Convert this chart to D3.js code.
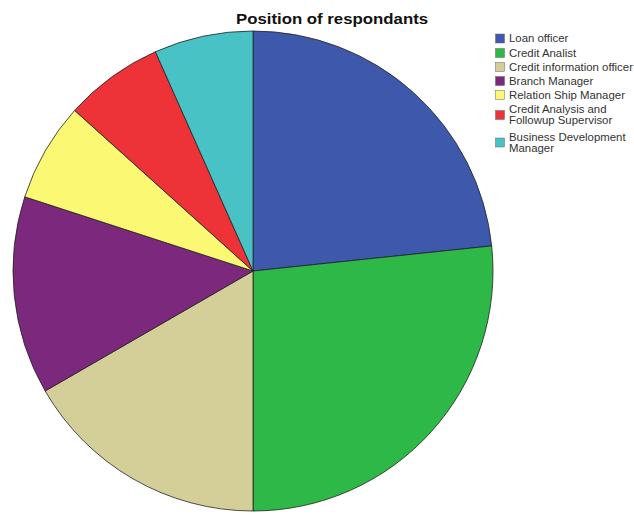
<!DOCTYPE html>
<html>
<head>
<script src="https://d3js.org/d3.v7.min.js"></script>
<style>
  body { margin: 0; background: #fff; }
  text { font-family: "Liberation Sans", Arial, sans-serif; }
</style>
</head>
<body>
<svg width="634" height="515"></svg>
<script>
// counts per position (n = 30)
var positions = ["Loan officer", "Credit Analist", "Credit information officer", "Branch Manager",
                 "Relation Ship Manager", "Credit Analysis and Followup Supervisor", "Business Development Manager"];
var counts = [7, 8, 5, 4, 2, 2, 2];
var colors = ["#3e58ac", "#2eb848", "#d4cf98", "#7c287d", "#fbf873", "#ee3338", "#48c2c5"];
var legendLines = [["Loan officer"], ["Credit Analist"], ["Credit information officer"], ["Branch Manager"],
                   ["Relation Ship Manager"], ["Credit Analysis and", "Followup Supervisor"], ["Business Development", "Manager"]];

var svg = d3.select("svg");
var cx = 253, cy = 271, r = 240;

svg.append("text")
  .attr("transform", "translate(332,24) scale(1.2,1)")
  .attr("text-anchor", "middle")
  .attr("font-size", 14).attr("font-weight", "bold")
  .attr("fill", "#111")
  .text("Position of respondants");

var pie = d3.pie().sort(null).value(function(d) { return d; });
var arc = d3.arc().innerRadius(0).outerRadius(r);
var color = d3.scaleOrdinal().domain(positions).range(colors);

svg.append("g")
  .attr("transform", "translate(" + cx + "," + cy + ")")
  .selectAll("path")
  .data(pie(counts))
  .enter().append("path")
  .attr("d", arc)
  .attr("fill", function(d, i) { return color(positions[i]); })
  .attr("stroke", "#222")
  .attr("stroke-width", 0.8);

// legend: swatch centre y for each entry
var rowY = [38.5, 53, 67, 81, 95, 115, 142.5];
var legend = svg.append("g");
positions.forEach(function(p, i) {
  var lines = legendLines[i];
  var y = rowY[i];
  legend.append("rect")
    .attr("x", 495.5).attr("y", y - 4.5)
    .attr("width", 9).attr("height", 9)
    .attr("fill", color(p))
    .attr("stroke", "#666").attr("stroke-width", 0.5);
  var top = y + 3.5 - (lines.length - 1) * 5.5;
  lines.forEach(function(t, j) {
    legend.append("text")
      .attr("transform", "translate(509," + (top + j * 11) + ") scale(1.14,1)")
      .attr("font-size", 10)
      .attr("fill", "#333")
      .text(t);
  });
});
</script>
</body>
</html>
